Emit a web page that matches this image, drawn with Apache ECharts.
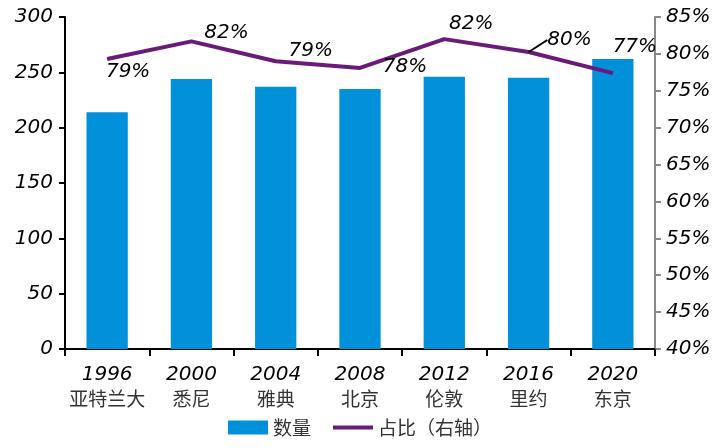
<!DOCTYPE html>
<html><head><meta charset="utf-8">
<script src="https://cdn.jsdelivr.net/npm/echarts@6/dist/echarts.min.js"></script>
<style>html,body{margin:0;padding:0;background:#fff}#c{width:720px;height:448px}</style>
</head><body><div id="c"></div>
<script>
const years = ['1996','2000','2004','2008','2012','2016','2020'];
const cities = ['亚特兰大','悉尼','雅典','北京','伦敦','里约','东京'];
const counts = [214, 244, 237, 235, 246, 245, 262];
const shares = [79.3, 81.7, 79.0, 78.1, 82.0, 80.25, 77.4];
const shareLabels = ['79%','82%','79%','78%','82%','80%','77%'];
const leftTicks = {min:0, max:300, interval:50};
const rightTicks = {min:40, max:85, interval:5};

const numFont = '"DejaVu Sans", sans-serif';
const cjkFont = '"Noto Sans CJK SC", sans-serif';
const labelShift = [[21,28],[35,7],[35,5],[45,14],[27,0],[41,3],[22,-11]];
const chart = echarts.init(document.getElementById('c'));
chart.setOption({
  animation:false,
  grid:{left:65,right:65,top:17,bottom:99},
  legend:{bottom:6,left:'center',itemWidth:40,itemHeight:14,itemGap:22,
    textStyle:{fontFamily:cjkFont,fontSize:19,color:'#333'},
    data:[{name:'数量',icon:'rect'},{name:'占比（右轴）',icon:'path://M0,0 L40,0 L40,4 L0,4 Z'}]},
  xAxis:{type:'category',data:years.map((y,i)=>y+'\n'+cities[i]),
    axisLine:{lineStyle:{color:'#000',width:2}},
    axisTick:{show:true,length:7,lineStyle:{color:'#000',width:2}},
    axisLabel:{interval:0,margin:14,lineHeight:24,
      formatter:v=>{const p=v.split('\n');return '{y|'+p[0]+'}\n{c|'+p[1]+'}';},
      rich:{y:{fontFamily:numFont,fontStyle:'italic',fontSize:20,color:'#000'},
            c:{fontFamily:cjkFont,fontSize:19,color:'#333'}}}},
  yAxis:[
    {type:'value',min:leftTicks.min,max:leftTicks.max,interval:leftTicks.interval,
      splitLine:{show:false},
      axisLine:{show:true,lineStyle:{color:'#000',width:2}},
      axisTick:{show:true,length:6,lineStyle:{color:'#000',width:2}},
      axisLabel:{fontFamily:numFont,fontStyle:'italic',fontSize:20,color:'#000',margin:12}},
    {type:'value',min:rightTicks.min,max:rightTicks.max,interval:rightTicks.interval,
      position:'right',splitLine:{show:false},
      axisLine:{show:true,lineStyle:{color:'#888',width:2}},
      axisTick:{show:true,length:6,lineStyle:{color:'#888',width:2}},
      axisLabel:{fontFamily:numFont,fontStyle:'italic',fontSize:20,color:'#000',margin:11,formatter:'{value}%'}}
  ],
  series:[
    {name:'数量',type:'bar',data:counts,barWidth:'49%',itemStyle:{color:'#0091DA'}},
    {name:'占比（右轴）',type:'line',yAxisIndex:1,symbol:'circle',symbolSize:0.1,showSymbol:true,
      lineStyle:{color:'#6A1B7A',width:4},itemStyle:{color:'#6A1B7A'},
      labelLayout:p=>({dx:labelShift[p.dataIndex][0],dy:labelShift[p.dataIndex][1]}),
      data:shares.map((v,i)=>({value:v,
        labelLine:{show:i===5,lineStyle:{color:'#000',width:2}},
        label:{show:true,position:'top',
          formatter:shareLabels[i],fontFamily:numFont,fontStyle:'italic',fontSize:20,color:'#000'}}))}
  ]
});
</script></body></html>
